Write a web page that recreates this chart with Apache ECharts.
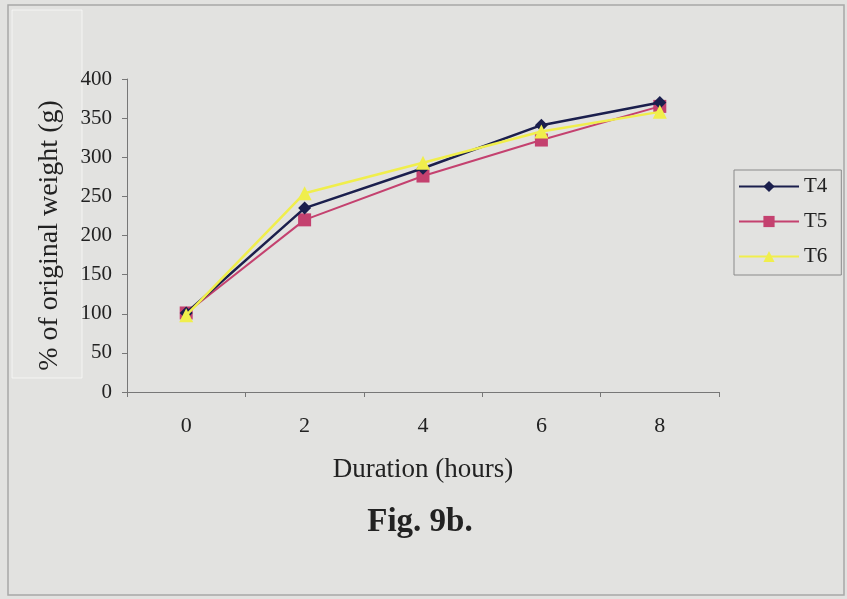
<!DOCTYPE html>
<html><head><meta charset="utf-8">
<script src="https://cdn.jsdelivr.net/npm/echarts@6/dist/echarts.min.js"></script>
<style>html,body{margin:0;padding:0;background:#e2e2e0}#c{width:847px;height:599px}</style>
</head><body><div id="c"></div>
<script>
const categories = ['0','2','4','6','8'];
const T4 = [101, 235, 286, 341, 370];
const T5 = [101, 220, 276, 322, 365];
const T6 = [98, 254, 293, 333, 358];
const yTicks = [0, 50, 100, 150, 200, 250, 300, 350, 400];

const font = 'Liberation Serif';
const chart = echarts.init(document.getElementById('c'));
chart.setOption({
  backgroundColor: '#e2e2e0',
  animation: false,
  textStyle: {fontFamily: font, color: '#222'},
  grid: {left: 127, right: 128, top: 79, bottom: 207},
  graphic: [
    {type: 'rect', shape: {x: 8, y: 5, width: 836, height: 590}, style: {fill: 'none', stroke: '#a8a8a6', lineWidth: 1.5}, silent: true},
    {type: 'rect', shape: {x: 12, y: 10, width: 70, height: 368}, style: {fill: 'rgba(255,255,255,0.12)', stroke: 'rgba(255,255,255,0.6)', lineWidth: 1}, silent: true, z: -1},
    {type: 'text', x: 420, y: 522, style: {text: 'Fig. 9b.', font: 'bold 33px "Liberation Serif"', fill: '#222', textAlign: 'center', textVerticalAlign: 'middle'}}
  ],
  legend: {
    orient: 'vertical', left: 734, top: 170,
    itemWidth: 60, itemHeight: 14, itemGap: 14,
    borderColor: '#8a8a8a', borderWidth: 1, padding: [6, 14, 8, 4],
    textStyle: {fontFamily: font, fontSize: 21, color: '#222'},
    data: ['T4', 'T5', 'T6']
  },
  xAxis: {
    type: 'category', data: categories, boundaryGap: true,
    name: 'Duration (hours)', nameLocation: 'middle', nameGap: 64,
    nameTextStyle: {fontFamily: font, fontSize: 27, color: '#222'},
    axisLine: {lineStyle: {color: '#777', width: 1}},
    axisTick: {show: true, length: 5, lineStyle: {color: '#777'}},
    axisLabel: {fontFamily: font, fontSize: 22, color: '#222', margin: 23}
  },
  yAxis: {
    type: 'value', min: yTicks[0], max: yTicks[yTicks.length - 1], interval: 50,
    name: '% of original weight (g)', nameLocation: 'middle', nameGap: 63,
    nameTextStyle: {fontFamily: font, fontSize: 28, color: '#222'},
    axisLine: {show: true, lineStyle: {color: '#777', width: 1}},
    axisTick: {show: true, length: 5, lineStyle: {color: '#777'}},
    splitLine: {show: false},
    axisLabel: {fontFamily: font, fontSize: 21, color: '#222', margin: 15}
  },
  series: [
    {name: 'T4', type: 'line', data: T4, symbol: 'diamond', symbolSize: 13,
     itemStyle: {color: '#1b1f4d'}, lineStyle: {color: '#1b1f4d', width: 2.5}, z: 3},
    {name: 'T5', type: 'line', data: T5, symbol: 'rect', symbolSize: 13,
     itemStyle: {color: '#c4416f'}, lineStyle: {color: '#c4416f', width: 2}, z: 2},
    {name: 'T6', type: 'line', data: T6, symbol: 'triangle', symbolSize: 14,
     itemStyle: {color: '#f0ee4c'}, lineStyle: {color: '#f0ee4c', width: 2.5}, z: 4}
  ]
});
</script></body></html>
